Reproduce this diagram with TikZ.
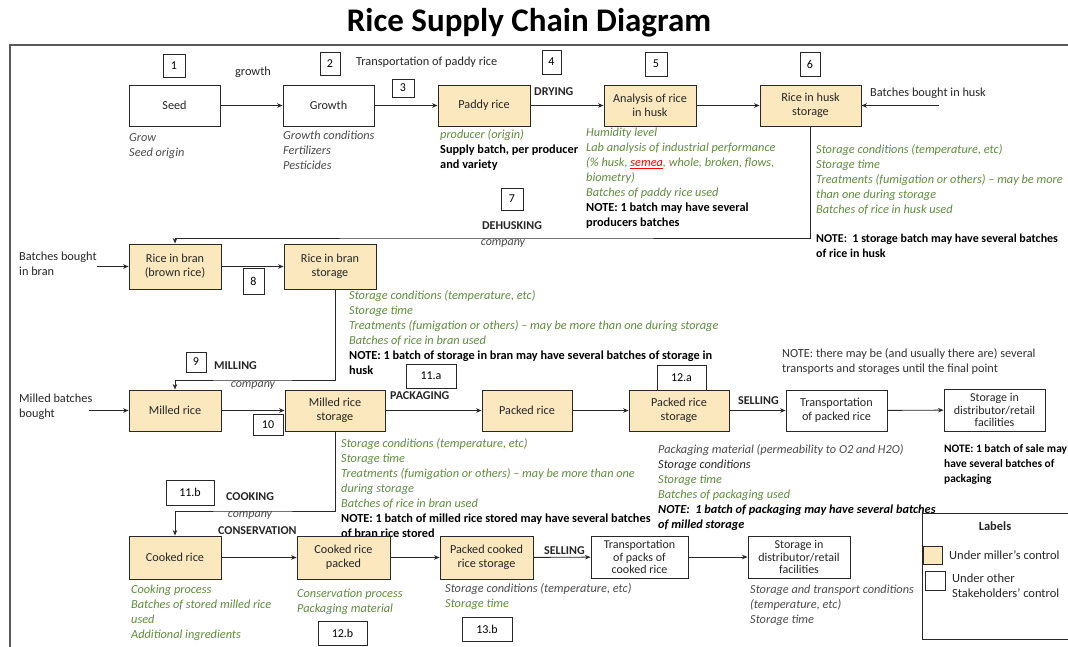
\documentclass[tikz,border=0pt]{standalone}
\usepackage{fontspec}
\setmainfont{Carlito}
\usetikzlibrary{arrows.meta}
\definecolor{millerfill}{RGB}{251,232,190}
\definecolor{notegreen}{RGB}{95,140,60}
\definecolor{notegray}{RGB}{75,75,75}
\definecolor{inkline}{RGB}{40,40,40}
\newcommand\bodysize{\fontsize{12.3}{15}\selectfont}
\newcommand\boxsize{\fontsize{12.2}{14}\selectfont}
\newcommand\tightsize{\fontsize{12}{12.2}\selectfont}
\begin{document}
\begin{tikzpicture}[x=1pt,y=-1pt,
  every node/.style={inner sep=0pt},
  stage/.style={draw=inkline, line width=0.9pt, align=center,
    font=\boxsize, text=black!85},
  miller/.style={stage, fill=millerfill},
  other/.style={stage, fill=white},
  numbox/.style={draw=inkline, line width=0.9pt, fill=white,
    font=\fontsize{12}{14}\selectfont},
  link/.style={line width=0.9pt, draw=inkline},
  arr/.style={link, -{Stealth[length=5.5pt,width=4.5pt]}},
  desc/.style={anchor=north west, align=left, font=\bodysize\itshape},
  gtext/.style={text=notegreen},
  dtext/.style={text=notegray},
  caps/.style={font=\fontsize{12}{14}\selectfont\bfseries, text=black!85},
  plaintext/.style={font=\bodysize, text=black!85},
  firm/.style={font=\fontsize{12}{14}\selectfont\itshape, text=notegray},
]
\useasboundingbox (0,0) rectangle (1068,646);
\clip (0,0) rectangle (1068,646);

% title and frame
\node[font=\fontsize{33}{36}\selectfont\bfseries] (title) at (529,23) {Rice Supply Chain Diagram};
\draw[black!65, line width=1.5pt] (10,660) -- (10,45) -- (1080,45);

% ---------------- row 1: from seed to husk storage ----------------
\node[other,  minimum width=91,  minimum height=41] (seed)     at (174.5,105.5) {Seed};
\node[other,  minimum width=91,  minimum height=41] (growth)   at (328.5,105.5) {Growth};
\node[miller, minimum width=92,  minimum height=41] (paddy)    at (484,105.5)   {Paddy rice};
\node[miller, minimum width=92,  minimum height=41] (analysis) at (650,105.5)   {Analysis of rice\\in husk};
\node[miller, minimum width=101, minimum height=41] (huskst)   at (810.5,105.5) {Rice in husk\\storage};

\node[numbox, minimum width=22, minimum height=23] (n1) at (174,65.5) {1};
\node[numbox, minimum width=20, minimum height=23] (n2) at (330,63.5) {2};
\node[numbox, minimum width=22, minimum height=18] (n3) at (403,88)   {3};
\node[numbox, minimum width=19, minimum height=24] (n4) at (551.5,62) {4};
\node[numbox, minimum width=22, minimum height=24] (n5) at (656,64)   {5};
\node[numbox, minimum width=20, minimum height=24] (n6) at (810,64)   {6};
\node[numbox, minimum width=22, minimum height=22] (n7) at (512,199)  {7};

\node[plaintext] (lgrowth) at (253,72) {growth};
\node[plaintext, anchor=west] (ltransport) at (356,62) {Transportation of paddy rice};
\node[caps, anchor=west] (ldrying) at (534,92) {DRYING};
\node[plaintext, anchor=west] (lhuskin) at (870,93) {Batches bought in husk};
\coordinate (huskin) at (939,105.5);

\draw[arr] (seed) -- (growth);
\draw[arr] (growth) -- (paddy);
\draw[arr] (paddy) -- (analysis);
\draw[arr] (analysis) -- (huskst);
\draw[arr] (huskin) -- (huskst);

\node[desc, dtext] (dseed) at (129,133) {Grow\\Seed origin};
\node[desc, dtext] (dgrowth) at (283,131) {Growth conditions\\Fertilizers\\Pesticides};
\node[desc] (dpaddy) at (440,129) {\textcolor{notegreen}{producer (origin)}\\
  {\upshape\bfseries Supply batch, per producer}\\{\upshape\bfseries and variety}};
\node[desc] (danalysis) at (586,128) {\textcolor{notegreen}{Humidity level}\\
  \textcolor{notegreen}{Lab analysis of industrial performance}\\
  \textcolor{notegreen}{(\% husk, }\textcolor{red}{\underline{semea}}\textcolor{notegreen}{, whole, broken, flows,}\\
  \textcolor{notegreen}{biometry)}\\
  \textcolor{notegreen}{Batches of paddy rice used}\\
  {\upshape\bfseries NOTE: 1 batch may have several}\\
  {\upshape\bfseries producers batches}};
\node[desc, gtext] (dhusk) at (816,144) {Storage conditions (temperature, etc)\\Storage time\\
  Treatments (fumigation or others) -- may be more\\than one during storage\\Batches of rice in husk used};
\node[desc, font=\fontsize{12}{15}\selectfont\bfseries] (nhusk) at (816,234)
  {NOTE:\ \ 1 storage batch may have several batches\\of rice in husk};

% dehusking link
\node[caps] (ldehusk) at (512,226) {DEHUSKING};
\node[firm] (fdehusk) at (503,244) {company};
\coordinate (dehusk) at (500,238);

% ---------------- row 2: rice in bran ----------------
\node[miller, minimum width=92, minimum height=45] (branr)  at (175,266.5) {Rice in bran\\(brown rice)};
\node[miller, minimum width=92, minimum height=45] (branst) at (330,266.5) {Rice in bran\\storage};
\node[numbox, minimum width=21, minimum height=26] (n8) at (253.5,281) {8};
\node[plaintext, anchor=north west, align=left] (lbranin) at (19,252) {Batches bought\\in bran};
\coordinate (branin) at (97,266.5);

\draw[arr] (huskst.south) |- (dehusk) -| (branr.north);
\draw[arr] (branin) -- (branr);
\draw[arr] (branr) -- (branst);

\node[desc] (dbran) at (349,290) {\textcolor{notegreen}{Storage conditions (temperature, etc)}\\
  \textcolor{notegreen}{Storage time}\\
  \textcolor{notegreen}{Treatments (fumigation or others) -- may be more than one during storage}\\
  \textcolor{notegreen}{Batches of rice in bran used}\\
  {\upshape\bfseries NOTE: 1 batch of storage in bran may have several batches of storage in}\\
  {\upshape\bfseries husk}};

% milling link
\node[numbox, minimum width=20, minimum height=20] (n9) at (196,362) {9};
\node[caps, anchor=west] (lmilling) at (214,366) {MILLING};
\node[firm] (fmill) at (253,386) {company};
\coordinate (mill) at (250,380);

% ---------------- row 3: milled rice and packed rice ----------------
\node[miller, minimum width=92,  minimum height=41] (milled) at (175,410.5) {Milled rice};
\node[miller, minimum width=100, minimum height=41] (millst) at (335,410.5) {Milled rice\\storage};
\node[miller, minimum width=90,  minimum height=41] (packed) at (527,410.5) {Packed rice};
\node[miller, minimum width=100, minimum height=41] (packst) at (679,410.5) {Packed rice\\storage};
\node[other,  minimum width=101, minimum height=41] (transp) at (836.5,410.5) {Transportation\\of packed rice};
\node[other,  minimum width=101, minimum height=42, font=\tightsize] (distr)
  at (994.5,410) {Storage in\\distributor/retail\\facilities};

\node[numbox, minimum width=30, minimum height=21] (n10)  at (268,424.5) {10};
\node[numbox, minimum width=50, minimum height=24] (n11a) at (431,376)   {11.a};
\node[numbox, minimum width=49, minimum height=25] (n12a) at (681.5,377.5) {12.a};

\node[plaintext, anchor=north west, align=left] (lmilledin) at (19,394) {Milled batches\\bought};
\coordinate (milledin) at (89,410.5);
\node[caps, anchor=west] (lpackaging) at (390,396) {PACKAGING};
\node[caps, anchor=west] (lselling) at (738,401) {SELLING};
\node[plaintext, anchor=north west, align=left, text=black!80] (nfinal) at (782,348)
  {NOTE: there may be (and usually there are) several\\transports and storages until the final point};

\draw[arr] ([xshift=5pt]branst.south) |- (mill) -| (milled.north);
\draw[arr] (milledin) -- (milled);
\draw[arr] (milled) -- (millst);
\draw[arr] (millst) -- (packed);
\draw[arr] (packed) -- (packst);
\draw[arr] (packst) -- (transp);
\draw[arr] (transp) -- (distr);

\node[desc] (dmillst) at (341,438) {\textcolor{notegreen}{Storage conditions (temperature, etc)}\\
  \textcolor{notegreen}{Storage time}\\
  \textcolor{notegreen}{Treatments (fumigation or others) -- may be more than one}\\
  \textcolor{notegreen}{during storage}\\
  \textcolor{notegreen}{Batches of rice in bran used}\\
  {\upshape\bfseries NOTE: 1 batch of milled rice stored may have several batches}\\
  {\upshape\bfseries of bran rice stored}};
\node[desc] (dpackst) at (658,444) {\textcolor{notegray}{Packaging material (permeability to O2 and H2O)}\\
  \textcolor{black!85}{Storage conditions}\\
  \textcolor{notegreen}{Storage time}\\
  \textcolor{notegreen}{Batches of packaging used}\\
  {\bfseries NOTE:\ \ 1 batch of packaging may have several batches}\\
  {\bfseries of milled storage}};
\node[desc, font=\fontsize{11.4}{15}\selectfont\bfseries] (ddistr) at (944,444)
  {NOTE: 1 batch of sale may\\have several batches of\\packaging};

% cooking link
\node[numbox, minimum width=48, minimum height=25] (n11b) at (190,492.5) {11.b};
\node[caps, anchor=west] (lcooking) at (226,497) {COOKING};
\node[firm] (fcook) at (250,516) {company};
\node[caps, anchor=west] (lconserv) at (218,531) {CONSERVATION};
\coordinate (cook) at (250,511);

% ---------------- row 4: cooked rice ----------------
\node[miller, minimum width=92,  minimum height=43] (cooked)   at (175,557.5)   {Cooked rice};
\node[miller, minimum width=93,  minimum height=43] (ckpacked) at (343.5,557.5) {Cooked rice\\packed};
\node[miller, minimum width=93,  minimum height=43] (ckstore)  at (486.5,557.5) {Packed cooked\\rice storage};
\node[other,  minimum width=97,  minimum height=42, font=\tightsize] (transp2)
  at (639.5,557) {Transportation\\of packs of\\cooked rice};
\node[other,  minimum width=102, minimum height=42, font=\tightsize] (distr2)
  at (799,557) {Storage in\\distributor/retail\\facilities};

\node[caps, anchor=west] (lselling2) at (544,551) {SELLING};

\draw[arr] (millst.south) |- (cook) -| (cooked.north);
\draw[arr] (cooked) -- (ckpacked);
\draw[arr] (ckpacked) -- (ckstore);
\draw[arr] (ckstore) -- (transp2);
\draw[arr] (transp2) -- (distr2);

\node[desc, gtext] (dcooked) at (131,585) {Cooking process\\Batches of stored milled rice\\used\\Additional ingredients};
\node[desc, gtext] (dckpacked) at (297,589) {Conservation process\\Packaging material};
\node[desc] (dckstore) at (445,583) {\textcolor{notegray}{Storage conditions (temperature, etc)}\\
  \textcolor{notegreen}{Storage time}};
\node[desc, dtext] (ddistr2) at (750,585) {Storage and transport conditions\\(temperature, etc)\\Storage time};

\node[numbox, minimum width=49, minimum height=24] (n12b) at (342.5,633) {12.b};
\node[numbox, minimum width=50, minimum height=24] (n13b) at (487,629)   {13.b};

% ---------------- legend ----------------
\node[draw=inkline, line width=0.9pt, anchor=north west, minimum width=165, minimum height=126] (legend) at (922,513) {};
\node[font=\fontsize{12.5}{14}\selectfont\bfseries, text=black!85] (legtitle) at (995,526) {Labels};
\node[draw=inkline, line width=0.9pt, fill=millerfill, minimum width=19, minimum height=18] (keymiller) at (932.5,555) {};
\node[draw=inkline, line width=0.9pt, fill=white, minimum width=20, minimum height=19] (keyother) at (935,580.5) {};
\node[plaintext, font=\fontsize{12.5}{15}\selectfont, anchor=west] (txtmiller) at (949,555) {Under miller's control};
\node[plaintext, font=\fontsize{12.5}{15}\selectfont, anchor=west, align=left] (txtother) at (952,585.5)
  {Under other\\Stakeholders' control};
\end{tikzpicture}
\end{document}
